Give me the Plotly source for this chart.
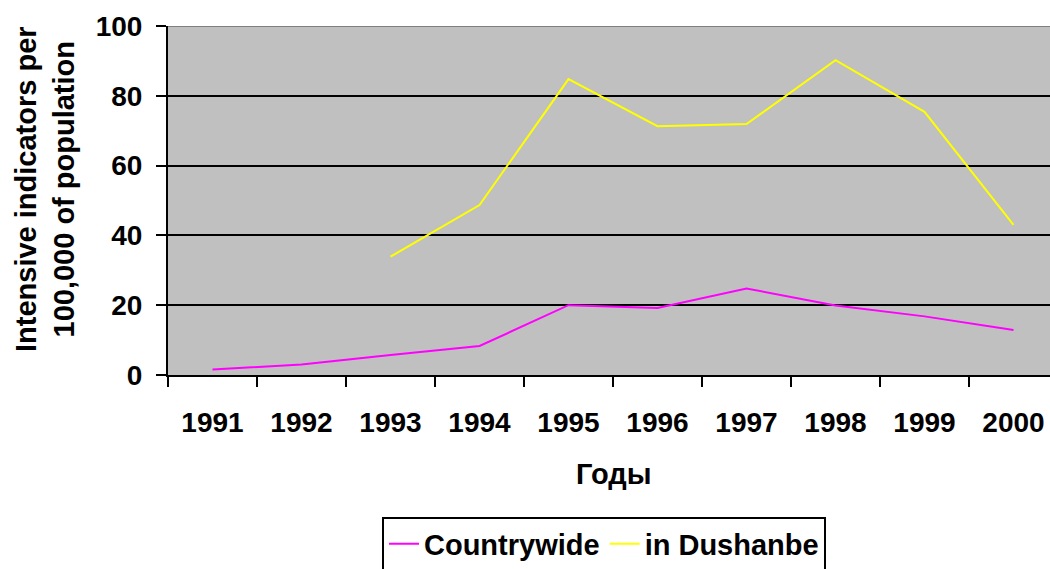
import plotly.graph_objects as go

years = ["1991", "1992", "1993", "1994", "1995", "1996", "1997", "1998", "1999", "2000"]
countrywide = [1.6, 3.0, 5.7, 8.3, 20.0, 19.2, 24.8, 19.9, 16.8, 12.9]
dushanbe = [None, None, 33.9, 48.7, 84.8, 71.3, 71.9, 90.2, 75.4, 43.0]
y_ticks = [0, 20, 40, 60, 80, 100]

FONT = "Liberation Sans, Arial, sans-serif"

# plot area in page coords: x 168..1050 (continuing past the edge), y 26..375
fig = go.Figure()
fig.add_trace(go.Scatter(x=years, y=countrywide, mode="lines", name="Countrywide",
                         line=dict(color="#FF00FF", width=2)))
fig.add_trace(go.Scatter(x=years, y=dushanbe, mode="lines", name="in Dushanbe",
                         line=dict(color="#FFFF00", width=2)))

# grey top border of plot area
fig.add_shape(type="line", xref="paper", yref="y", x0=0, x1=1, y0=100, y1=100,
              line=dict(color="#808080", width=2))

L, T = 168, 26
PW = 882.0
PH = 349.0

fig.update_layout(
    width=1050, height=569,
    margin=dict(l=L, r=0, t=T, b=194, autoexpand=False),
    paper_bgcolor="white",
    plot_bgcolor="#C0C0C0",
    font=dict(family=FONT, color="black", size=28, weight="bold"),
    showlegend=True,
    legend=dict(orientation="h", x=(604 - L) / PW, y=(375 - 544) / PH,
                xanchor="center", yanchor="middle",
                bordercolor="black", borderwidth=2, bgcolor="white",
                font=dict(family=FONT, size=29, color="black", weight="bold")),
    xaxis=dict(type="category", range=[-0.5, 9.5 - 8 / 89], showgrid=False,
               showline=True, linecolor="black", linewidth=2,
               ticks="outside", tickson="boundaries", ticklen=10, tickwidth=2,
               tickcolor="black", ticklabelstandoff=21,
               tickfont=dict(family=FONT, size=28, color="black", weight="bold"),
               zeroline=False, fixedrange=True, automargin=False),
    yaxis=dict(range=[0, 100], tickvals=y_ticks, showgrid=True, gridcolor="black",
               gridwidth=2, showline=True, linecolor="black", linewidth=2,
               ticks="outside", ticklen=10, tickwidth=2, tickcolor="black",
               ticklabelstandoff=8,
               tickfont=dict(family=FONT, size=28, color="black", weight="bold"),
               zeroline=False, fixedrange=True, automargin=False),
    annotations=[
        dict(text="Годы", xref="paper", yref="paper", x=(614 - L) / PW,
             y=(375 - 474) / PH, xanchor="center", yanchor="middle", showarrow=False,
             font=dict(family=FONT, size=29, color="black", weight="bold")),
        dict(text="Intensive indicators per<br>100,000 of population", xref="paper",
             yref="paper", x=(45 - L) / PW, y=(375 - 189) / PH, xanchor="center",
             yanchor="middle", textangle=-90, showarrow=False,
             font=dict(family=FONT, size=29, color="black", weight="bold")),
    ],
)

fig.write_html(
    "out.html",
    config={"displayModeBar": False},
    post_script="document.body.style.margin='0';document.body.style.overflow='hidden';",
)
